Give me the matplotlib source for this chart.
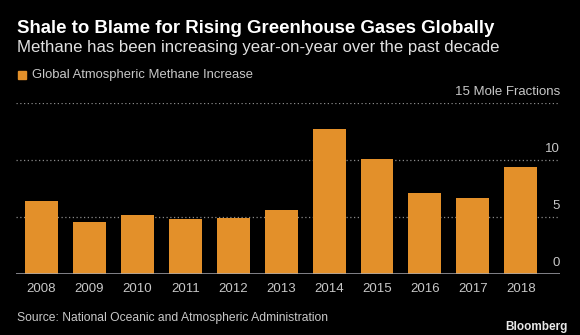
import matplotlib
matplotlib.use("Agg")
import matplotlib.pyplot as plt
from matplotlib.patches import Rectangle

years = ["2008", "2009", "2010", "2011", "2012", "2013", "2014", "2015", "2016", "2017", "2018"]
values = [6.44, 4.57, 5.18, 4.85, 4.98, 5.68, 12.74, 10.08, 7.09, 6.69, 9.43]
yticks = [0, 5, 10, 15]
ytick_labels = ["0", "5", "10", "15 Mole Fractions"]

title = "Shale to Blame for Rising Greenhouse Gases Globally"
subtitle = "Methane has been increasing year-on-year over the past decade"
legend_label = "Global Atmospheric Methane Increase"
source = "Source: National Oceanic and Atmospheric Administration"

BG = "black"
BAR = "#E3902A"
TXT = "#C8C8C8"
GRID = "#8A8A8A"

plt.rcParams['font.family'] = ['Liberation Sans', 'DejaVu Sans']

W, H = 580, 335
fig = plt.figure(figsize=(5.8, 3.35), dpi=100, facecolor=BG)
ax = fig.add_axes([16 / W, 1 - 274.3 / H, (560 - 16) / W, (274.3 - 103.3) / H], facecolor=BG)
renderer = fig.canvas.get_renderer()

x = list(range(len(years)))
ax.bar(x, values, width=0.688, color=BAR, zorder=2)
ax.set_xlim(-0.532, 10.818)
ax.set_ylim(0, 15)

for t in yticks[1:]:
    ax.axhline(t, color=GRID, lw=0.9, ls=(0, (1, 2)), zorder=1)
ax.axhline(0, color="#A8A8B0", lw=1.8, zorder=3)

for s in ax.spines.values():
    s.set_visible(False)
ax.set_yticks([])
ax.set_xticks(x)
ax.set_xticklabels(years, color=TXT, fontsize=9.5)
ax.tick_params(axis='x', length=0, pad=6)

# y labels sized so the unit label matches its width
probe = fig.text(0, 0, ytick_labels[-1], fontsize=10)
ysize = 10 * 106 / probe.get_window_extent(renderer).width
probe.remove()
for t, lab in zip(yticks, ytick_labels):
    ax.annotate(lab, xy=(1.0, t), xycoords=ax.get_yaxis_transform(),
                xytext=(0, 4), textcoords='offset points',
                ha='right', va='bottom', color=TXT, fontsize=ysize)


def fitted(xpx, ypx, s, width_px, size, ha='left', **kw):
    t = fig.text(xpx / W, 1 - ypx / H, s, va='center', ha=ha, fontsize=size, **kw)
    w = t.get_window_extent(renderer).width
    t.set_fontsize(size * width_px / w)
    return t


fitted(16.6, 28.5, title, 477, 12, color="white", fontweight='bold')
fitted(16.6, 47.5, subtitle, 480, 11, color="#E0E0E0")
fig.patches.append(Rectangle((18 / W, 1 - 79 / H), 8 / W, 8 / H,
                             transform=fig.transFigure, color=BAR, figure=fig))
fitted(31.7, 75, legend_label, 222, 9, color=TXT)
fitted(16.7, 318, source, 314, 9, color=TXT)
fitted(567.3, 327, "Bloomberg", 62, 9, ha='right', color="#E8E8E8", fontweight='bold')

fig.savefig("out.png", dpi=100, facecolor=BG)
